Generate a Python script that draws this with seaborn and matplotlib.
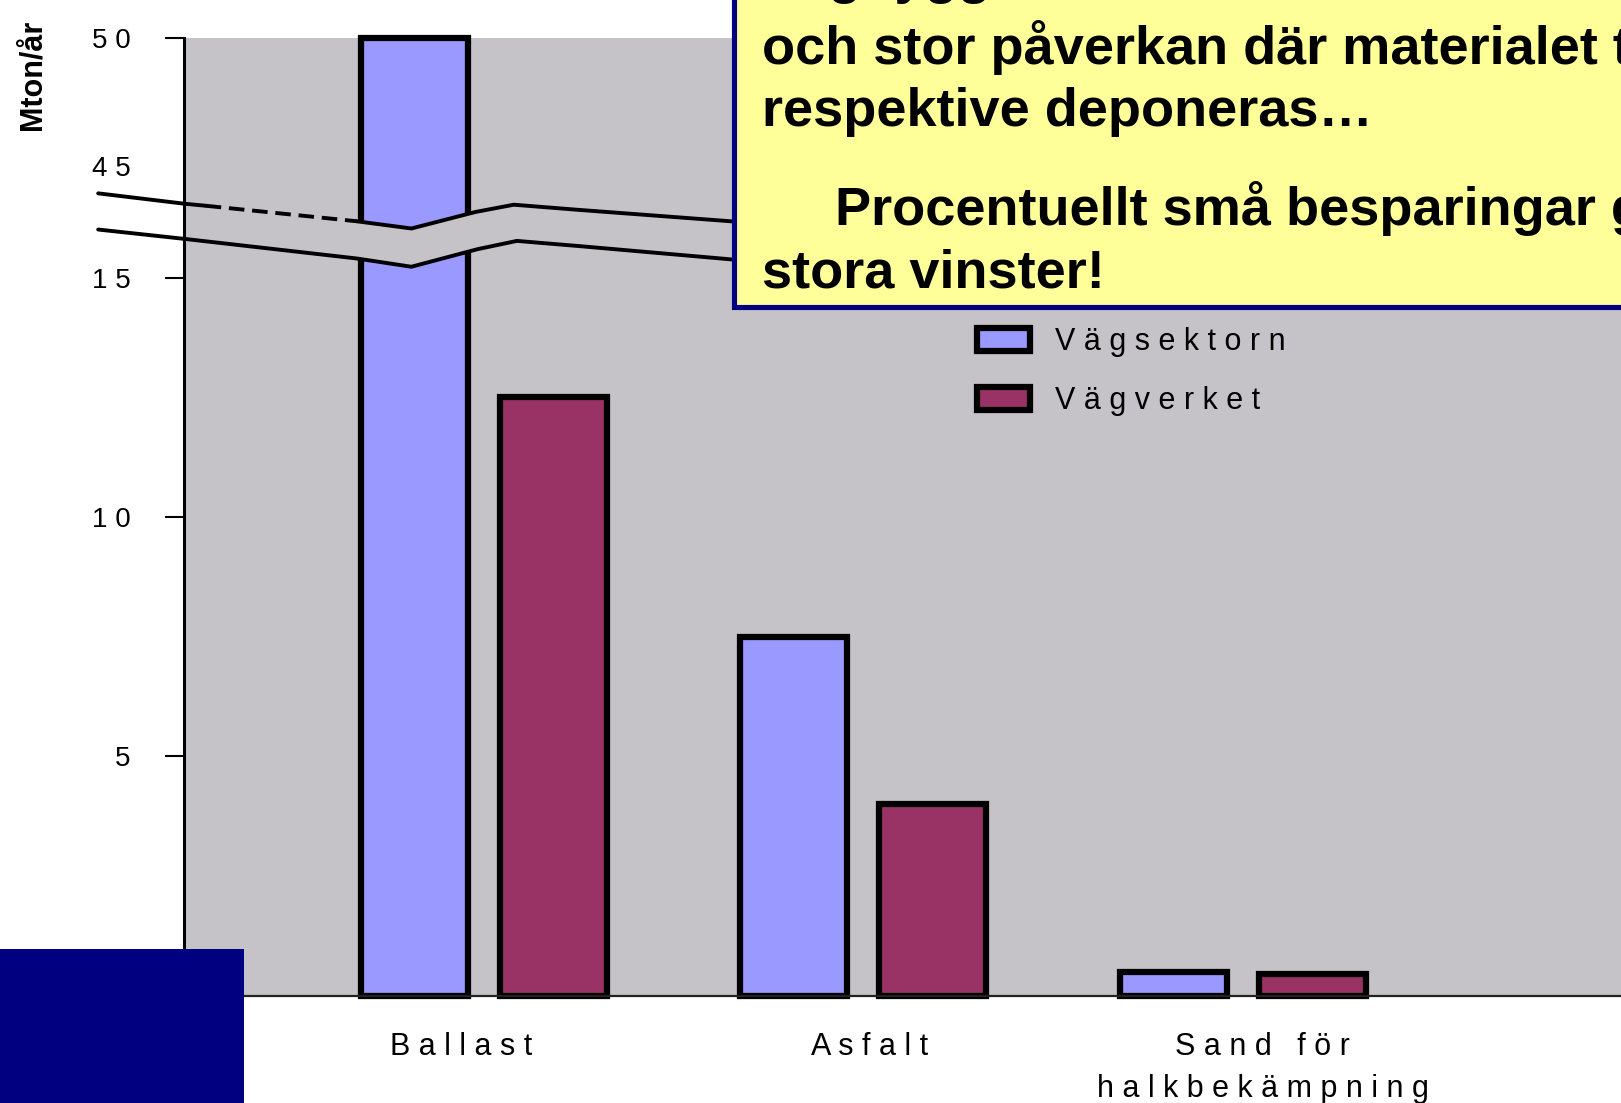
import numpy as np
import pandas as pd
import matplotlib
matplotlib.use("Agg")
import matplotlib.pyplot as plt
import matplotlib.transforms as mtransforms
from matplotlib.patches import Patch, Rectangle, Polygon
from matplotlib.lines import Line2D
import seaborn as sns

# data (Mton/år)
kategorier = ["Ballast", "Asfalt", "Sand för\nhalkbekämpning"]
vagsektorn = [50.0, 7.5, 0.5]
vagverket = [12.5, 4.0, 0.45]
serier = ["Vägsektorn", "Vägverket"]
yticks = [5, 10, 15, 50]
yticks_utan_streck = [45]

farger = {"Vägsektorn": "#9999FF", "Vägverket": "#993366"}
BG = "#C5C3C7"
NAVY = "#000080"

df = pd.DataFrame({
    "kategori": kategorier * 2,
    "aktor": [serier[0]] * 3 + [serier[1]] * 3,
    "mton": vagsektorn + vagverket,
})


def spaced(s):
    # the original draws its labels with wide letter spacing
    return "\n".join(" ".join(rad) for rad in s.split("\n"))


# broken y axis: 0-15 linear, 15-45 squeezed, 45-50 on its own scale
def fwd(v):
    v = np.asarray(v, dtype=float)
    return np.where(v <= 15, v,
                    np.where(v <= 45, 15 + (v - 15) * (2.33 / 30),
                             17.33 + (v - 45) * (2.67 / 5)))


def inv(u):
    u = np.asarray(u, dtype=float)
    return np.where(u <= 15, u,
                    np.where(u <= 17.33, 15 + (u - 15) * (30 / 2.33),
                             45 + (u - 17.33) * (5 / 2.67)))


sns.set_theme(style="ticks")
plt.rcParams["font.family"] = ["Liberation Sans", "DejaVu Sans"]
plt.rcParams["text.color"] = "black"

fig = plt.figure(figsize=(16.21, 11.03), dpi=100)
fig.patch.set_facecolor("white")
ax = fig.add_axes([0.1135, 0.0974, 0.8865, 0.8679])
ax.set_facecolor(BG)

sns.barplot(data=df, x="kategori", y="mton", hue="aktor", palette=farger,
            order=kategorier, hue_order=serier, width=0.733, gap=0.23,
            edgecolor="black", linewidth=4.5, saturation=1, legend=False, ax=ax)
for p in ax.patches:
    p.set_clip_on(False)
    p.set_zorder(1)

ax.set_yscale("function", functions=(fwd, inv))
ax.set_ylim(0, 50)
ax.set_xlim(-0.792, 2.998)
ax.set_yticks(yticks)
ax.set_yticklabels([spaced(str(t)) for t in yticks])
ax.set_yticks(yticks_utan_streck, minor=True)
ax.set_yticklabels([spaced(str(t)) for t in yticks_utan_streck], minor=True)
ax.set_xticks(range(len(kategorier)))
ax.set_xticklabels([spaced(k) for k in kategorier], linespacing=1.55)
ax.set_xlabel("")
ax.set_ylabel("")
ax.tick_params(axis="y", which="major", length=13.4, width=1.5, pad=25,
               labelsize=20, colors="black", left=True)
ax.tick_params(axis="y", which="minor", length=0, pad=25 + 13.4,
               labelsize=20, colors="black", left=True)
ax.tick_params(axis="x", length=0, pad=26, labelsize=22, colors="black")

# labels in the original sit a little off the group centres
forskjut = [-23, 6, 20]
for lab, dx in zip(ax.get_xticklabels(), forskjut):
    lab.set_verticalalignment("top")
    lab.set_transform(lab.get_transform() +
                      mtransforms.ScaledTranslation(dx / 100, 0, fig.dpi_scale_trans))

sns.despine(ax=ax, top=True, right=True)
ax.spines["left"].set_linewidth(2.2)
ax.spines["left"].set_color("black")
ax.spines["bottom"].set_linewidth(1.6)
ax.spines["bottom"].set_color("#222222")

fig.text(0.02, 0.932, "Mton/år", rotation=90, ha="center", va="center",
         fontsize=22, fontweight="bold", color="black")

# axis break: two wavy lines, gap painted in background colour
L, R, T, B = 178.0, 1568.0, 37.0, 963.0


def px2ax(pts):
    return [((x - L) / (R - L), (B - y) / (B - T)) for x, y in pts]


upper = [(95, 187), (178, 197), (199, 199), (345, 214), (398, 221), (460, 205),
         (497, 198), (560, 203), (720, 215), (1568, 245)]
lower = [(95, 222), (178, 231), (345, 250), (398, 258), (462, 241), (500, 233),
         (560, 238), (720, 252), (1568, 280)]

xs = np.linspace(178, 1568, 400)
uy = np.interp(xs, [p[0] for p in upper], [p[1] for p in upper])
ly = np.interp(xs, [p[0] for p in lower], [p[1] for p in lower])
gap_pts = list(zip(xs, uy)) + list(zip(xs[::-1], ly[::-1]))
ax.add_patch(Polygon(px2ax(gap_pts), closed=True, facecolor=BG, edgecolor="none",
                     transform=ax.transAxes, zorder=2, clip_on=False))

for seg, ls in [(upper[:3], "-"), (upper[2:4], (0, (4, 2))), (upper[3:], "-"),
                (lower, "-")]:
    sx, sy = zip(*px2ax(seg))
    ax.add_line(Line2D(sx, sy, transform=ax.transAxes, color="black", lw=2.8,
                       ls=ls, zorder=3, clip_on=False))

handles = [Patch(facecolor=farger[s], edgecolor="black", linewidth=4.5) for s in serier]
fig.legend(handles, [spaced(s) for s in serier], loc="upper left",
           bbox_to_anchor=(945 * 1.0338 / 1621, 1 - 316 * 1.0338 / 1103),
           frameon=False, fontsize=22, handlelength=1.75, handleheight=0.78,
           handletextpad=0.8, labelspacing=0.95, borderpad=0, borderaxespad=0)

# yellow callout box (runs off the top and right edge)
fig.add_artist(Rectangle((734 / 1621, 1 - 307 / 1103), 0.7, 0.5,
                         transform=fig.transFigure, facecolor="#FFFF99",
                         edgecolor=NAVY, linewidth=3.7, zorder=10))
rader = [
    (762, -7, "Vägbyggnad innebär stora flöden"),
    (762, 64, "och stor påverkan där materialet tas ut"),
    (762, 126, "respektive deponeras…"),
    (835, 225, "Procentuellt små besparingar ger"),
    (762, 288, "stora vinster!"),
]
for x, yb, txt in rader:
    fig.text(x / 1621, 1 - yb / 1103, txt, fontsize=39, fontweight="bold",
             ha="left", va="baseline", color="black", zorder=11)

# navy block bottom left
fig.add_artist(Rectangle((0, 0), 244 / 1621, 154 / 1103, transform=fig.transFigure,
                         facecolor=NAVY, edgecolor="none", zorder=10))

fig.savefig("out.png", dpi=100)
plt.close("all")
